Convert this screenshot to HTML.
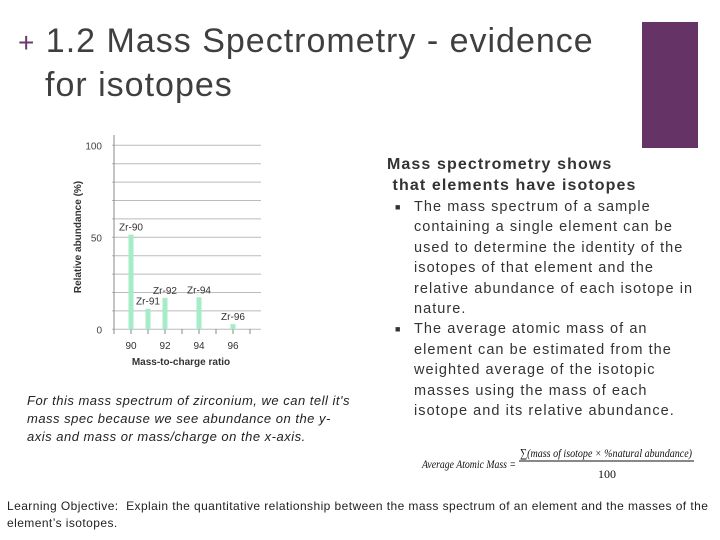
<!DOCTYPE html>
<html><head><meta charset="utf-8"><style>
body{margin:0;width:720px;height:540px;background:#fff;position:relative;overflow:hidden;font-family:"Liberation Sans",sans-serif}
.abs{position:absolute}
.nw{white-space:nowrap}
</style></head><body>
<div class="abs nw" style="left:18px;top:20px;font-size:34px;letter-spacing:1px;line-height:42px;color:#3f3f3f"><span style="color:#6b3a6b;font-size:28px">+</span> 1.2 Mass Spectrometry - evidence<br><span style="padding-left:27px">for isotopes</span></div>
<div class="abs" style="left:642px;top:22px;width:56px;height:126px;background:#663366"></div>
<svg class="abs" style="left:0;top:0" width="720" height="540">
<g id="chart"></g>
<g font-family="Liberation Serif, serif" font-style="italic" fill="#111">
<text x="422" y="468" font-size="12" textLength="94" lengthAdjust="spacingAndGlyphs">Average Atomic Mass =</text>
<text x="520" y="457" font-size="12" textLength="172" lengthAdjust="spacingAndGlyphs">∑(mass of isotope × %natural abundance)</text>
<line x1="519" x2="694" y1="461" y2="461" stroke="#111" stroke-width="1"/>
<text x="598" y="478" font-size="12" font-style="normal">100</text>
</g>
</svg>
<div class="abs nw" style="left:27px;top:392px;font-size:13px;letter-spacing:0.5px;font-style:italic;line-height:18px;color:#222">For this mass spectrum of zirconium, we can tell it's<br>mass spec because we see abundance on the y-<br>axis and mass or mass/charge on the x-axis.</div>
<div class="abs nw" style="left:387px;top:154px;font-size:16px;letter-spacing:1.1px;font-weight:bold;line-height:21px;color:#333">Mass spectrometry shows<br>&nbsp;that elements have isotopes</div>
<div class="abs nw" style="left:395px;top:197px;font-size:14.5px;letter-spacing:1.05px;line-height:20.4px;color:#333">
<div style="position:relative;padding-left:19px"><span style="position:absolute;left:0;top:0;font-size:9px">■</span>The mass spectrum of a sample<br>containing a single element can be<br>used to determine the identity of the<br>isotopes of that element and the<br>relative abundance of each isotope in<br>nature.</div>
<div style="position:relative;padding-left:19px"><span style="position:absolute;left:0;top:0;font-size:9px">■</span>The average atomic mass of an<br>element can be estimated from the<br>weighted average of the isotopic<br>masses using the mass of each<br>isotope and its relative abundance.</div>
</div>
<div class="abs nw" style="left:7px;top:498px;font-size:12px;letter-spacing:0.43px;line-height:17px;color:#222">Learning Objective:&nbsp; Explain the quantitative relationship between the mass spectrum of an element and the masses of the<br>element’s isotopes.</div>
<script>
const isotopes=["Zr-90","Zr-91","Zr-92","Zr-94","Zr-96"];
const masses=[90,91,92,94,96];
const abundance=[51.5,11.2,17.1,17.4,2.8];
const yTicks=[0,50,100];
const xTicks=[90,92,94,96];
const NS="http://www.w3.org/2000/svg";
const g=document.getElementById('chart');
const X=m=>131+(m-90)*17, Y=v=>329.3-v*1.84;
function el(t,a){const e=document.createElementNS(NS,t);for(const k in a)e.setAttribute(k,a[k]);g.appendChild(e);return e;}
for(let v=0;v<=100;v+=10){const l=el('line',{x1:112,x2:261,y1:Y(v),y2:Y(v),stroke:'#bbb','stroke-width':1});

}
const ya=el('line',{x1:114,x2:114,y1:135,y2:333,stroke:'#888','stroke-width':1});


for(let m=89;m<=97;m++){const t=el('line',{x1:X(m),x2:X(m),y1:329,y2:334,stroke:'#888'});

}
yTicks.forEach(v=>{const t=el('text',{x:102,y:Y(v)+4,'text-anchor':'end','font-size':10,fill:'#444'});t.textContent=v;

});
xTicks.forEach(v=>{const t=el('text',{x:X(v),y:349,'text-anchor':'middle','font-size':10,fill:'#333'});t.textContent=v;

});
masses.forEach((m,i)=>{const r=el('rect',{x:X(m)-2.5,y:Y(abundance[i]),width:5,height:Y(0)-Y(abundance[i]),fill:'#a6ecc9'});


const t=el('text',{x:X(m),y:Y(abundance[i])-4,'text-anchor':'middle','font-size':10,fill:'#333'});t.textContent=isotopes[i];

});
const xt=el('text',{x:181,y:365,'text-anchor':'middle','font-size':10,'font-weight':'bold',fill:'#333'});xt.textContent='Mass-to-charge ratio';


const yt=el('text',{x:0,y:0,'text-anchor':'middle','font-size':10,'font-weight':'bold',fill:'#333',transform:'translate(81,237) rotate(-90)'});yt.textContent='Relative abundance (%)';


</script>
</body></html>
